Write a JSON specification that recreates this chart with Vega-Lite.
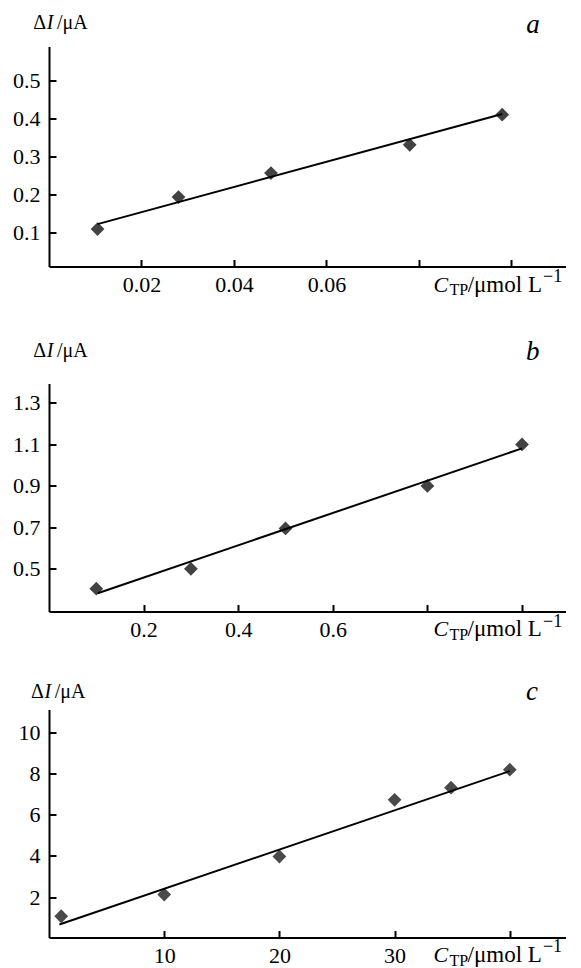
{
  "$schema": "https://vega.github.io/schema/vega-lite/v6.json",
  "padding": {"left": 12, "top": 10.5, "right": 0, "bottom": 10},
  "background": "white",
  "datasets": {
    "a_pts": [
      {"c": 0.0105, "dI": 0.109},
      {"c": 0.028, "dI": 0.193},
      {"c": 0.048, "dI": 0.256},
      {"c": 0.078, "dI": 0.33},
      {"c": 0.098, "dI": 0.409}
    ],
    "a_fit": [
      {"c": 0.0105, "dI": 0.122},
      {"c": 0.098, "dI": 0.411}
    ],
    "b_pts": [
      {"c": 0.1, "dI": 0.404},
      {"c": 0.3, "dI": 0.5},
      {"c": 0.5, "dI": 0.695},
      {"c": 0.8, "dI": 0.9},
      {"c": 1.0, "dI": 1.1}
    ],
    "b_fit": [
      {"c": 0.103, "dI": 0.382},
      {"c": 1.0, "dI": 1.081}
    ],
    "c_pts": [
      {"c": 1.06, "dI": 1.07},
      {"c": 10, "dI": 2.12},
      {"c": 20, "dI": 3.97},
      {"c": 30, "dI": 6.72},
      {"c": 34.9, "dI": 7.31},
      {"c": 40, "dI": 8.18}
    ],
    "c_fit": [
      {"c": 0.9, "dI": 0.67},
      {"c": 40, "dI": 8.11}
    ],
    "one": [{}]
  },
  "spacing": 39,
  "bounds": "full",
  "vconcat": [
    {
      "width": 517,
      "height": 220,
      "layer": [
        {
          "data": {"name": "a_pts"},
          "mark": {"type": "point", "shape": "diamond", "filled": true, "color": "#424242", "opacity": 1, "size": 190},
          "encoding": {
            "x": {"field": "c", "type": "quantitative",
              "scale": {"domain": [0, 0.1118], "nice": false, "zero": false},
              "axis": {"values": [0.02, 0.04, 0.06, 0.08, 0.1],
                "labelExpr": "datum.value < 0.07 ? format(datum.value, '.2f') : ''",
                "title": null}},
            "y": {"field": "dI", "type": "quantitative",
              "scale": {"domain": [0.0108, 0.588], "nice": false, "zero": false},
              "axis": {"values": [0.1, 0.2, 0.3, 0.4, 0.5], "format": ".1f", "title": null}}
          }
        },
        {
          "data": {"name": "a_fit"},
          "mark": {"type": "line", "color": "black", "strokeWidth": 2},
          "encoding": {
            "x": {"field": "c", "type": "quantitative"},
            "y": {"field": "dI", "type": "quantitative"}
          }
        },
        {"data": {"name": "one"}, "mark": {"type": "text", "fontSize": 27, "fontStyle": "italic", "align": "left", "baseline": "alphabetic", "color": "black"},
          "encoding": {"x": {"datum": 0.1032}, "y": {"datum": 0.6232}, "text": {"value": "a"}}},
        {"data": {"name": "one"}, "mark": {"type": "text", "fontSize": 20, "align": "left", "baseline": "alphabetic", "color": "black"},
          "encoding": {"x": {"datum": -0.003395}, "y": {"datum": 0.6339}, "text": {"value": "Δ"}}},
        {"data": {"name": "one"}, "mark": {"type": "text", "fontSize": 20, "fontStyle": "italic", "align": "left", "baseline": "alphabetic", "color": "black"},
          "encoding": {"x": {"datum": -0.000497}, "y": {"datum": 0.6339}, "text": {"value": "I"}}},
        {"data": {"name": "one"}, "mark": {"type": "text", "fontSize": 20, "align": "left", "baseline": "alphabetic", "color": "black"},
          "encoding": {"x": {"datum": 0.00173}, "y": {"datum": 0.6339}, "text": {"value": "/μA"}}},
        {"data": {"name": "one"}, "mark": {"type": "text", "fontSize": 22, "fontStyle": "italic", "align": "left", "baseline": "alphabetic", "color": "black"},
          "encoding": {"x": {"datum": 0.08315}, "y": {"datum": -0.0548}, "text": {"value": "C"}}},
        {"data": {"name": "one"}, "mark": {"type": "text", "fontSize": 16, "align": "left", "baseline": "alphabetic", "color": "black"},
          "encoding": {"x": {"datum": 0.08661}, "y": {"datum": -0.064}, "text": {"value": "TP"}}},
        {"data": {"name": "one"}, "mark": {"type": "text", "fontSize": 23, "align": "left", "baseline": "alphabetic", "color": "black"},
          "encoding": {"x": {"datum": 0.09053}, "y": {"datum": -0.0548}, "text": {"value": "/μmol L"}}},
        {"data": {"name": "one"}, "mark": {"type": "text", "fontSize": 18, "align": "left", "baseline": "alphabetic", "color": "black"},
          "encoding": {"x": {"datum": 0.10683}, "y": {"datum": -0.0286}, "text": {"value": "−1"}}}
      ]
    },
    {
      "spacing": 34,
      "bounds": "full",
      "vconcat": [
        {
          "width": 517,
          "height": 228,
          "layer": [
            {
              "data": {"name": "b_pts"},
              "mark": {"type": "point", "shape": "diamond", "filled": true, "color": "#424242", "opacity": 1, "size": 190},
              "encoding": {
                "x": {"field": "c", "type": "quantitative",
                  "scale": {"domain": [0, 1.093], "nice": false, "zero": false},
                  "axis": {"values": [0.2, 0.4, 0.6, 0.8, 1.0],
                    "labelExpr": "datum.value < 0.7 ? format(datum.value, '.1f') : ''",
                    "title": null}},
                "y": {"field": "dI", "type": "quantitative",
                  "scale": {"domain": [0.294, 1.394], "nice": false, "zero": false},
                  "axis": {"values": [0.5, 0.7, 0.9, 1.1, 1.3], "format": ".1f", "title": null}}
              }
            },
            {
              "data": {"name": "b_fit"},
              "mark": {"type": "line", "color": "black", "strokeWidth": 2},
              "encoding": {
                "x": {"field": "c", "type": "quantitative"},
                "y": {"field": "dI", "type": "quantitative"}
              }
            },
            {"data": {"name": "one"}, "mark": {"type": "text", "fontSize": 27, "fontStyle": "italic", "align": "left", "baseline": "alphabetic", "color": "black"},
              "encoding": {"x": {"datum": 1.0085}, "y": {"datum": 1.507}, "text": {"value": "b"}}},
            {"data": {"name": "one"}, "mark": {"type": "text", "fontSize": 20, "align": "left", "baseline": "alphabetic", "color": "black"},
              "encoding": {"x": {"datum": -0.0332}, "y": {"datum": 1.5228}, "text": {"value": "Δ"}}},
            {"data": {"name": "one"}, "mark": {"type": "text", "fontSize": 20, "fontStyle": "italic", "align": "left", "baseline": "alphabetic", "color": "black"},
              "encoding": {"x": {"datum": -0.00486}, "y": {"datum": 1.5228}, "text": {"value": "I"}}},
            {"data": {"name": "one"}, "mark": {"type": "text", "fontSize": 20, "align": "left", "baseline": "alphabetic", "color": "black"},
              "encoding": {"x": {"datum": 0.01691}, "y": {"datum": 1.5228}, "text": {"value": "/μA"}}},
            {"data": {"name": "one"}, "mark": {"type": "text", "fontSize": 22, "fontStyle": "italic", "align": "left", "baseline": "alphabetic", "color": "black"},
              "encoding": {"x": {"datum": 0.8129}, "y": {"datum": 0.1734}, "text": {"value": "C"}}},
            {"data": {"name": "one"}, "mark": {"type": "text", "fontSize": 16, "align": "left", "baseline": "alphabetic", "color": "black"},
              "encoding": {"x": {"datum": 0.8467}, "y": {"datum": 0.1565}, "text": {"value": "TP"}}},
            {"data": {"name": "one"}, "mark": {"type": "text", "fontSize": 23, "align": "left", "baseline": "alphabetic", "color": "black"},
              "encoding": {"x": {"datum": 0.885}, "y": {"datum": 0.1734}, "text": {"value": "/μmol L"}}},
            {"data": {"name": "one"}, "mark": {"type": "text", "fontSize": 18, "align": "left", "baseline": "alphabetic", "color": "black"},
              "encoding": {"x": {"datum": 1.0444}, "y": {"datum": 0.2216}, "text": {"value": "−1"}}}
          ]
        },
        {
          "width": 517,
          "height": 228,
          "layer": [
            {
              "data": {"name": "c_pts"},
              "mark": {"type": "point", "shape": "diamond", "filled": true, "color": "#4a4a4a", "opacity": 1, "size": 190},
              "encoding": {
                "x": {"field": "c", "type": "quantitative",
                  "scale": {"domain": [0, 44.88], "nice": false, "zero": false},
                  "axis": {"values": [10, 20, 30, 40],
                    "labelExpr": "datum.value < 35 ? format(datum.value, 'd') : ''",
                    "title": null}},
                "y": {"field": "dI", "type": "quantitative",
                  "scale": {"domain": [0.04, 11.1], "nice": false, "zero": false},
                  "axis": {"values": [2, 4, 6, 8, 10], "format": "d", "title": null}}
              }
            },
            {
              "data": {"name": "c_fit"},
              "mark": {"type": "line", "color": "black", "strokeWidth": 2},
              "encoding": {
                "x": {"field": "c", "type": "quantitative"},
                "y": {"field": "dI", "type": "quantitative"}
              }
            },
            {"data": {"name": "one"}, "mark": {"type": "text", "fontSize": 27, "fontStyle": "italic", "align": "left", "baseline": "alphabetic", "color": "black"},
              "encoding": {"x": {"datum": 41.4}, "y": {"datum": 11.537}, "text": {"value": "c"}}},
            {"data": {"name": "one"}, "mark": {"type": "text", "fontSize": 20, "align": "left", "baseline": "alphabetic", "color": "black"},
              "encoding": {"x": {"datum": -1.5625}, "y": {"datum": 11.6336}, "text": {"value": "Δ"}}},
            {"data": {"name": "one"}, "mark": {"type": "text", "fontSize": 20, "fontStyle": "italic", "align": "left", "baseline": "alphabetic", "color": "black"},
              "encoding": {"x": {"datum": -0.3993}, "y": {"datum": 11.6336}, "text": {"value": "I"}}},
            {"data": {"name": "one"}, "mark": {"type": "text", "fontSize": 20, "align": "left", "baseline": "alphabetic", "color": "black"},
              "encoding": {"x": {"datum": 0.4948}, "y": {"datum": 11.6336}, "text": {"value": "/μA"}}},
            {"data": {"name": "one"}, "mark": {"type": "text", "fontSize": 22, "fontStyle": "italic", "align": "left", "baseline": "alphabetic", "color": "black"},
              "encoding": {"x": {"datum": 33.38}, "y": {"datum": -1.1727}, "text": {"value": "C"}}},
            {"data": {"name": "one"}, "mark": {"type": "text", "fontSize": 16, "align": "left", "baseline": "alphabetic", "color": "black"},
              "encoding": {"x": {"datum": 34.77}, "y": {"datum": -1.3425}, "text": {"value": "TP"}}},
            {"data": {"name": "one"}, "mark": {"type": "text", "fontSize": 23, "align": "left", "baseline": "alphabetic", "color": "black"},
              "encoding": {"x": {"datum": 36.34}, "y": {"datum": -1.1727}, "text": {"value": "/μmol L"}}},
            {"data": {"name": "one"}, "mark": {"type": "text", "fontSize": 18, "align": "left", "baseline": "alphabetic", "color": "black"},
              "encoding": {"x": {"datum": 42.88}, "y": {"datum": -0.6876}, "text": {"value": "−1"}}}
          ]
        }
      ]
    }
  ],
  "config": {
    "font": "Liberation Serif",
    "view": {"stroke": null},
    "text": {"font": "Liberation Serif"},
    "axis": {
      "grid": false,
      "domainColor": "black",
      "domainWidth": 2,
      "tickColor": "black",
      "tickWidth": 2,
      "tickSize": -7,
      "labelFont": "Liberation Serif",
      "labelFontSize": 22,
      "labelColor": "black"
    },
    "axisX": {"labelPadding": 14.6},
    "axisY": {"labelPadding": 16}
  }
}
